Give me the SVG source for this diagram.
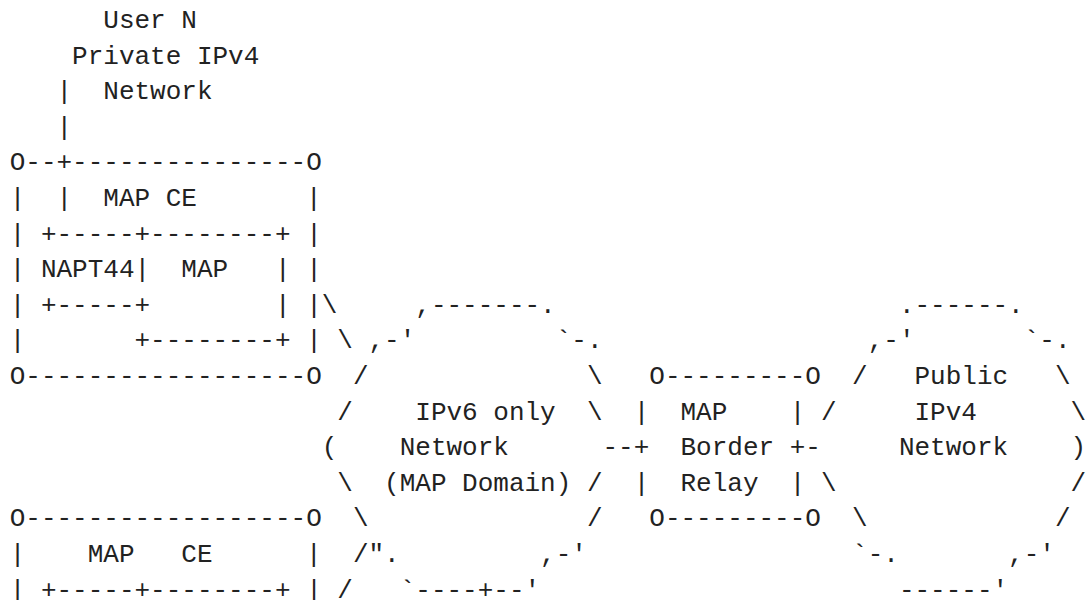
<svg xmlns="http://www.w3.org/2000/svg" width="1091" height="600" viewBox="0 0 1091 600" xml:space="preserve">
<style>
text { font-family: "Liberation Mono", "DejaVu Sans Mono", monospace; font-size: 26px; fill: #222222; white-space: pre; }
</style>
<rect x="0" y="0" width="1091" height="600" fill="#ffffff"/>
<g id="user-n">
<text x="103.3" y="28">User N</text>
<text x="72.1" y="63.6">Private IPv4</text>
<text x="103.3" y="99.2">Network</text>
</g>
<g id="connectors">
<text x="56.5" y="99.2">|</text>
<text x="56.5" y="134.8">|</text>
<text x="56.5" y="206">|</text>
<text x="321.7" y="312.8">\</text>
<text x="337.3" y="348.4">\</text>
<text x="352.9" y="562">/</text>
<text x="337.3" y="597.6">/</text>
<text x="602.5" y="455.2">--</text>
<text x="805.3" y="455.2">-</text>
</g>
<g id="map-ce-n">
<text x="9.7" y="170.4">O--+---------------O</text>
<text x="9.7" y="206">|</text>
<text x="103.3" y="206">MAP CE</text>
<text x="306.1" y="206">|</text>
<text x="9.7" y="241.6">| +-----+--------+ |</text>
<text x="9.7" y="277.2">| NAPT44|  MAP   | |</text>
<text x="9.7" y="312.8">| +-----+        | |</text>
<text x="9.7" y="348.4">|       +--------+ |</text>
<text x="9.7" y="384">O------------------O</text>
</g>
<g id="ipv6-domain">
<text x="415.3" y="312.8">,-------.</text>
<text x="368.5" y="348.4">,-'</text>
<text x="555.7" y="348.4">`-.</text>
<text x="352.9" y="384">/</text>
<text x="586.9" y="384">\</text>
<text x="337.3" y="419.6">/</text>
<text x="415.3" y="419.6">IPv6 only</text>
<text x="586.9" y="419.6">\</text>
<text x="321.7" y="455.2">(</text>
<text x="399.7" y="455.2">Network</text>
<text x="337.3" y="490.8">\</text>
<text x="384.1" y="490.8">(MAP Domain)</text>
<text x="586.9" y="490.8">/</text>
<text x="352.9" y="526.4">\</text>
<text x="586.9" y="526.4">/</text>
<text x="368.5" y="562">".</text>
<text x="540.1" y="562">,-'</text>
<text x="399.7" y="597.6">`----+--'</text>
</g>
<g id="map-border-relay">
<text x="649.3" y="384">O---------O</text>
<text x="633.7" y="419.6">|</text>
<text x="680.5" y="419.6">MAP</text>
<text x="789.7" y="419.6">|</text>
<text x="633.7" y="455.2">+</text>
<text x="680.5" y="455.2">Border</text>
<text x="789.7" y="455.2">+</text>
<text x="633.7" y="490.8">|</text>
<text x="680.5" y="490.8">Relay</text>
<text x="789.7" y="490.8">|</text>
<text x="649.3" y="526.4">O---------O</text>
</g>
<g id="public-ipv4">
<text x="898.9" y="312.8">.------.</text>
<text x="867.7" y="348.4">,-'</text>
<text x="1023.7" y="348.4">`-.</text>
<text x="852.1" y="384">/</text>
<text x="914.5" y="384">Public</text>
<text x="1054.9" y="384">\</text>
<text x="820.9" y="419.6">/</text>
<text x="914.5" y="419.6">IPv4</text>
<text x="1070.5" y="419.6">\</text>
<text x="898.9" y="455.2">Network</text>
<text x="1070.5" y="455.2">)</text>
<text x="820.9" y="490.8">\</text>
<text x="1070.5" y="490.8">/</text>
<text x="852.1" y="526.4">\</text>
<text x="1054.9" y="526.4">/</text>
<text x="852.1" y="562">`-.</text>
<text x="1008.1" y="562">,-'</text>
<text x="898.9" y="597.6">------'</text>
</g>
<g id="map-ce-m">
<text x="9.7" y="526.4">O------------------O</text>
<text x="9.7" y="562">|</text>
<text x="87.7" y="562">MAP</text>
<text x="181.3" y="562">CE</text>
<text x="306.1" y="562">|</text>
<text x="9.7" y="597.6">| +-----+--------+ |</text>
</g>
</svg>
